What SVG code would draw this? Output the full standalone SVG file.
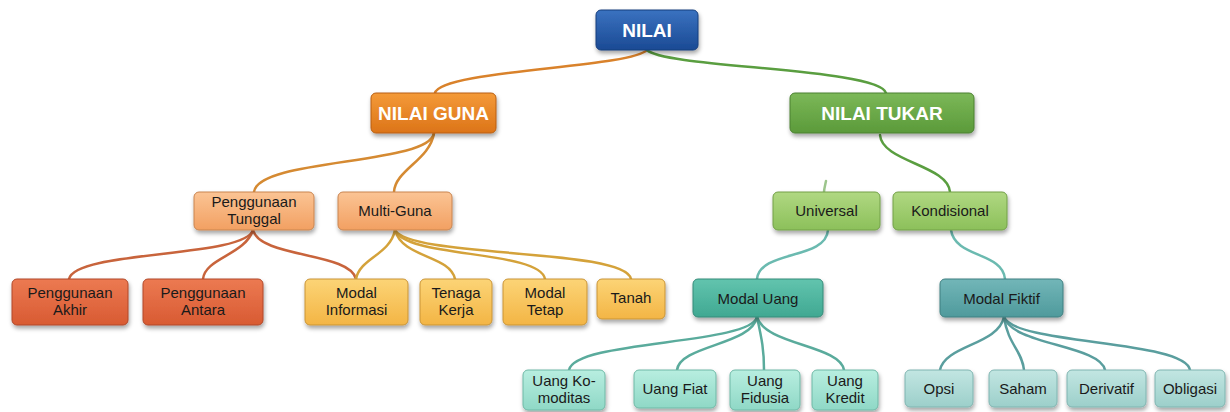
<svg xmlns="http://www.w3.org/2000/svg" width="1230" height="412" viewBox="0 0 1230 412">
<defs>
  <filter id="sh" x="-20%" y="-20%" width="140%" height="160%">
    <feDropShadow dx="1" dy="3" stdDeviation="2" flood-color="#000" flood-opacity="0.35"/>
  </filter>
  <linearGradient id="gBlue" x1="0" y1="0" x2="0" y2="1"><stop offset="0" stop-color="#3a72c0"/><stop offset="1" stop-color="#1b4a94"/></linearGradient>
  <linearGradient id="gOrange" x1="0" y1="0" x2="0" y2="1"><stop offset="0" stop-color="#f49a38"/><stop offset="1" stop-color="#dc7418"/></linearGradient>
  <linearGradient id="gGreen" x1="0" y1="0" x2="0" y2="1"><stop offset="0" stop-color="#7cb858"/><stop offset="1" stop-color="#5b9a3a"/></linearGradient>
  <linearGradient id="gLOrange" x1="0" y1="0" x2="0" y2="1"><stop offset="0" stop-color="#fbc494"/><stop offset="1" stop-color="#f2a062"/></linearGradient>
  <linearGradient id="gLGreen" x1="0" y1="0" x2="0" y2="1"><stop offset="0" stop-color="#b0d882"/><stop offset="1" stop-color="#8cc05a"/></linearGradient>
  <linearGradient id="gRed" x1="0" y1="0" x2="0" y2="1"><stop offset="0" stop-color="#ec7a52"/><stop offset="1" stop-color="#d85a32"/></linearGradient>
  <linearGradient id="gYellow" x1="0" y1="0" x2="0" y2="1"><stop offset="0" stop-color="#fcd476"/><stop offset="1" stop-color="#f3b545"/></linearGradient>
  <linearGradient id="gTeal" x1="0" y1="0" x2="0" y2="1"><stop offset="0" stop-color="#62c4ae"/><stop offset="1" stop-color="#40a892"/></linearGradient>
  <linearGradient id="gSlate" x1="0" y1="0" x2="0" y2="1"><stop offset="0" stop-color="#72b6b8"/><stop offset="1" stop-color="#4f9a9c"/></linearGradient>
  <linearGradient id="gMint" x1="0" y1="0" x2="0" y2="1"><stop offset="0" stop-color="#b8eee0"/><stop offset="1" stop-color="#8fd8c6"/></linearGradient>
  <linearGradient id="gPale" x1="0" y1="0" x2="0" y2="1"><stop offset="0" stop-color="#c2e6e2"/><stop offset="1" stop-color="#9ccfca"/></linearGradient>
</defs>
<style>
  .box { filter: url(#sh); stroke-width: 1; }
  .t { font-family: "Liberation Sans", Arial, sans-serif; font-size: 15px; fill: #1a1a1a; text-anchor: middle; }
  .h { font-family: "Liberation Sans", Arial, sans-serif; font-size: 19px; font-weight: bold; fill: #ffffff; text-anchor: middle; }
  .c { fill: none; stroke-width: 2.5; stroke-linecap: round; }
</style>
<rect width="1230" height="412" fill="#ffffff"/>

<g id="connectors">
  <path class="c" stroke="#d9822b" d="M647,50 C630,68 440,70 435,93"/>
  <path class="c" stroke="#5a9e40" d="M647,50 C665,68 880,68 886,93"/>
  <path class="c" stroke="#d58a32" d="M434,133 C430,165 258,158 254,192"/>
  <path class="c" stroke="#d58a32" d="M434,133 C430,160 395,170 394,192"/>
  <path class="c" stroke="#5a9e40" d="M880,135 C882,162 948,165 950,192"/>
  <path class="c" stroke="#5a9e40" stroke-opacity="0.6" d="M826,181 C825,186 824,189 824,192"/>
  <path class="c" stroke="#c8643c" d="M253,230 C245,258 75,250 69,279"/>
  <path class="c" stroke="#c8643c" d="M253,230 C245,255 205,258 203,279"/>
  <path class="c" stroke="#c8643c" d="M253,230 C260,258 350,252 356,279"/>
  <path class="c" stroke="#d4a23a" d="M395,230 C390,255 360,258 356,279"/>
  <path class="c" stroke="#d4a23a" d="M395,230 C402,258 450,255 455,279"/>
  <path class="c" stroke="#d4a23a" d="M395,230 C405,258 540,250 545,279"/>
  <path class="c" stroke="#d4a23a" d="M395,230 C410,258 625,248 631,279"/>
  <path class="c" stroke="#6bbab0" d="M828,230 C826,260 760,250 757,279"/>
  <path class="c" stroke="#6bbab0" d="M951,230 C955,258 1003,252 1005,279"/>
  <path class="c" stroke="#5aab9c" d="M757,317 C750,345 575,340 569,370"/>
  <path class="c" stroke="#5aab9c" d="M757,317 C752,345 680,345 677,370"/>
  <path class="c" stroke="#5aab9c" d="M757,317 C762,340 764,350 764,370"/>
  <path class="c" stroke="#5aab9c" d="M757,317 C765,345 840,345 844,370"/>
  <path class="c" stroke="#5a9e9e" d="M1004,317 C998,345 945,345 940,370"/>
  <path class="c" stroke="#5a9e9e" d="M1004,317 C1008,345 1022,350 1024,370"/>
  <path class="c" stroke="#5a9e9e" d="M1004,317 C1012,345 1100,345 1105,370"/>
  <path class="c" stroke="#5a9e9e" d="M1004,317 C1015,345 1185,340 1190,370"/>
</g>

<g id="nilai"><rect class="box" x="596" y="10" width="102" height="40" rx="5" fill="url(#gBlue)" stroke="#173f7d"/><text class="h" x="647" y="37">NILAI</text></g>
<g id="nilai-guna"><rect class="box" x="371" y="93" width="125" height="40" rx="5" fill="url(#gOrange)" stroke="#b85f12"/><text class="h" x="433.5" y="120">NILAI GUNA</text></g>
<g id="nilai-tukar"><rect class="box" x="790" y="93" width="184" height="40" rx="5" fill="url(#gGreen)" stroke="#4a8030"/><text class="h" x="882" y="120">NILAI TUKAR</text></g>

<g id="penggunaan-tunggal"><rect class="box" x="194" y="192" width="120" height="38" rx="5" fill="url(#gLOrange)" stroke="#c98450"/><text class="t" x="254" y="207">Penggunaan</text><text class="t" x="254" y="224">Tunggal</text></g>
<g id="multi-guna"><rect class="box" x="338" y="192" width="114" height="38" rx="5" fill="url(#gLOrange)" stroke="#c98450"/><text class="t" x="395" y="216">Multi-Guna</text></g>
<g id="universal"><rect class="box" x="773" y="192" width="107" height="38" rx="5" fill="url(#gLGreen)" stroke="#72a048"/><text class="t" x="826.5" y="216">Universal</text></g>
<g id="kondisional"><rect class="box" x="893" y="192" width="114" height="38" rx="5" fill="url(#gLGreen)" stroke="#72a048"/><text class="t" x="950" y="216">Kondisional</text></g>

<g id="penggunaan-akhir"><rect class="box" x="12" y="279" width="116" height="46" rx="5" fill="url(#gRed)" stroke="#b04828"/><text class="t" x="70" y="298">Penggunaan</text><text class="t" x="70" y="315">Akhir</text></g>
<g id="penggunaan-antara"><rect class="box" x="143" y="279" width="120" height="46" rx="5" fill="url(#gRed)" stroke="#b04828"/><text class="t" x="203" y="298">Penggunaan</text><text class="t" x="203" y="315">Antara</text></g>
<g id="modal-informasi"><rect class="box" x="305" y="279" width="103" height="46" rx="5" fill="url(#gYellow)" stroke="#c99436"/><text class="t" x="356.5" y="298">Modal</text><text class="t" x="356.5" y="315">Informasi</text></g>
<g id="tenaga-kerja"><rect class="box" x="420" y="279" width="72" height="46" rx="5" fill="url(#gYellow)" stroke="#c99436"/><text class="t" x="456" y="298">Tenaga</text><text class="t" x="456" y="315">Kerja</text></g>
<g id="modal-tetap"><rect class="box" x="503" y="279" width="84" height="46" rx="5" fill="url(#gYellow)" stroke="#c99436"/><text class="t" x="545" y="298">Modal</text><text class="t" x="545" y="315">Tetap</text></g>
<g id="tanah"><rect class="box" x="597" y="279" width="68" height="40" rx="5" fill="url(#gYellow)" stroke="#c99436"/><text class="t" x="631" y="303">Tanah</text></g>
<g id="modal-uang"><rect class="box" x="693" y="279" width="130" height="38" rx="5" fill="url(#gTeal)" stroke="#358a78"/><text class="t" x="758" y="304">Modal Uang</text></g>
<g id="modal-fiktif"><rect class="box" x="940" y="279" width="123" height="38" rx="5" fill="url(#gSlate)" stroke="#3f7f80"/><text class="t" x="1001.5" y="304" fill="#333">Modal Fiktif</text></g>

<g id="uang-komoditas"><rect class="box" x="523" y="370" width="82" height="40" rx="5" fill="url(#gMint)" stroke="#6fb8a6"/><text class="t" x="564" y="386">Uang Ko-</text><text class="t" x="564" y="403">moditas</text></g>
<g id="uang-fiat"><rect class="box" x="634" y="370" width="82" height="38" rx="5" fill="url(#gMint)" stroke="#6fb8a6"/><text class="t" x="675" y="394">Uang Fiat</text></g>
<g id="uang-fidusia"><rect class="box" x="730" y="370" width="70" height="40" rx="5" fill="url(#gMint)" stroke="#6fb8a6"/><text class="t" x="765" y="386">Uang</text><text class="t" x="765" y="403">Fidusia</text></g>
<g id="uang-kredit"><rect class="box" x="812" y="370" width="66" height="40" rx="5" fill="url(#gMint)" stroke="#6fb8a6"/><text class="t" x="845" y="386">Uang</text><text class="t" x="845" y="403">Kredit</text></g>
<g id="opsi"><rect class="box" x="905" y="370" width="68" height="37" rx="5" fill="url(#gPale)" stroke="#7fb4b0"/><text class="t" x="939" y="394">Opsi</text></g>
<g id="saham"><rect class="box" x="989" y="370" width="68" height="37" rx="5" fill="url(#gPale)" stroke="#7fb4b0"/><text class="t" x="1023" y="394">Saham</text></g>
<g id="derivatif"><rect class="box" x="1067" y="370" width="79" height="37" rx="5" fill="url(#gPale)" stroke="#7fb4b0"/><text class="t" x="1106.5" y="394">Derivatif</text></g>
<g id="obligasi"><rect class="box" x="1155" y="370" width="70" height="37" rx="5" fill="url(#gPale)" stroke="#7fb4b0"/><text class="t" x="1190" y="394">Obligasi</text></g>
</svg>
